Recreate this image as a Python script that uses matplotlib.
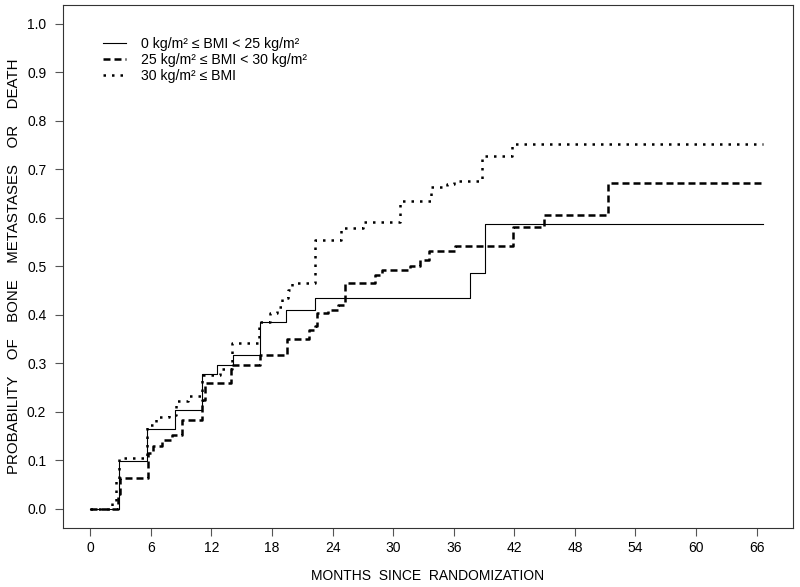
import matplotlib
matplotlib.use("Agg")
import matplotlib.pyplot as plt

plt.rcParams['font.family'] = ['Liberation Sans', 'DejaVu Sans']

# Step curves: jump times (months) and cumulative probability after each jump
t_low = [0, 2.8, 5.6, 8.4, 11.1, 12.6, 14.1, 16.8, 19.4, 22.3, 37.6, 39.1, 66.6]
p_low = [0, 0.0975, 0.165, 0.203, 0.278, 0.297, 0.317, 0.385, 0.410, 0.434, 0.486, 0.587, 0.587]

t_mid = [0, 2.7, 2.9, 5.7, 6.2, 7.1, 8.1, 9.1, 11.1, 11.4, 13.9, 16.8, 19.5, 21.7,
         22.3, 22.5, 23.5, 24.5, 25.2, 28.2, 28.9, 31.7, 32.7, 33.5, 36.1, 41.9,
         44.9, 51.3, 66.6]
p_mid = [0, 0.03, 0.063, 0.115, 0.130, 0.142, 0.152, 0.182, 0.225, 0.259, 0.296,
         0.317, 0.350, 0.369, 0.376, 0.404, 0.410, 0.421, 0.465, 0.482, 0.493,
         0.500, 0.513, 0.532, 0.541, 0.582, 0.606, 0.672, 0.672]

t_high = [0, 2.2, 2.5, 2.8, 5.6, 6.5, 7.8, 8.5, 9.7, 11.1, 12.8, 14.0, 16.7, 17.8,
          18.5, 19.0, 19.6, 20.0, 22.3, 24.8, 27.0, 30.7, 33.7, 35.3, 36.0, 38.8,
          41.8, 66.6]
p_high = [0, 0.012, 0.06, 0.105, 0.173, 0.190, 0.194, 0.221, 0.232, 0.276, 0.289,
          0.342, 0.386, 0.404, 0.415, 0.434, 0.450, 0.465, 0.555, 0.579, 0.592,
          0.634, 0.663, 0.669, 0.676, 0.728, 0.753, 0.753]

labels = ["0 kg/m² ≤ BMI < 25 kg/m²",
          "25 kg/m² ≤ BMI < 30 kg/m²",
          "30 kg/m² ≤ BMI"]

x_ticks = list(range(0, 67, 6))
y_ticks = [i / 10 for i in range(11)]

fig = plt.figure(figsize=(8, 5.87), dpi=100)
ax = fig.add_axes([63 / 800, (587 - 528) / 587, 730 / 800, 523.5 / 587])

ax.step(t_low, p_low, where='post', color='black', lw=0.8, label=labels[0])
ax.step(t_mid, p_mid, where='post', color='black', lw=1.8,
        linestyle=(0, (2.8, 1.6)), label=labels[1])
ax.step(t_high, p_high, where='post', color='black', lw=1.8,
        linestyle=(0, (1, 2.4)), label=labels[2])

ax.set_xlim(-2.7, 69.6)
ax.set_ylim(-0.04, 1.04)
ax.set_xticks(x_ticks)
ax.set_xticklabels([str(v) for v in x_ticks])
ax.set_yticks(y_ticks)
ax.set_yticklabels([f"{v:.1f}" for v in y_ticks])
ax.tick_params(axis='both', direction='out', length=6, width=0.8, labelsize=10,
               color='#555555')
ax.tick_params(axis='y', pad=6)
ax.tick_params(axis='x', pad=3.5)
for s in ax.spines.values():
    s.set_linewidth(0.8)
    s.set_color('#333333')

ax.set_xlabel("MONTHS  SINCE  RANDOMIZATION", fontsize=10, labelpad=10)
ax.set_ylabel("PROBABILITY    OF    BONE    METASTASES    OR    DEATH",
              fontsize=10.8, labelpad=4)

leg = ax.legend(loc='upper left', bbox_to_anchor=(103 / 800, 1 - 37 / 587),
                bbox_transform=fig.transFigure, frameon=False, fontsize=10.2,
                handlelength=1.65, handletextpad=1.0, labelspacing=0.13,
                borderpad=0, borderaxespad=0)

fig.savefig("out.png", dpi=100)
